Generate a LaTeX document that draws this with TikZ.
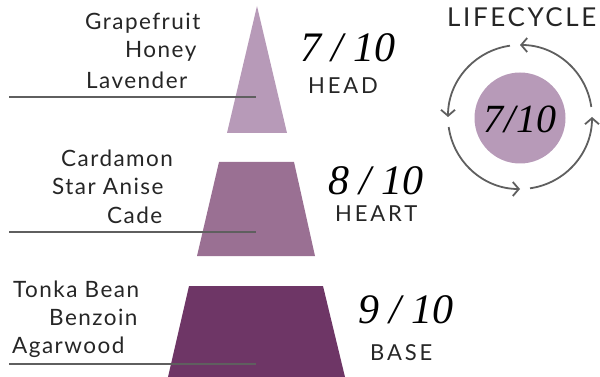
\documentclass[tikz,border=0pt]{standalone}
\usepackage{fontspec}
\usetikzlibrary{arrows.meta}
\setmainfont{Lato}[LetterSpace=6.5]
\newfontfamily\numfont{Liberation Serif}
\definecolor{headc}{HTML}{B79AB8}
\definecolor{heartc}{HTML}{9A7093}
\definecolor{basec}{HTML}{6E3666}
\definecolor{linec}{HTML}{5F5F5F}
\definecolor{txtc}{HTML}{262626}
\begin{document}
\begin{tikzpicture}[x=1pt,y=-1pt,
  lbl/.style={anchor=base west,inner sep=0pt,text=txtc,font=\fontsize{22.5}{23}\selectfont},
  score/.style={anchor=base west,inner sep=0pt,text=black,font=\numfont\itshape\fontsize{42}{42}\selectfont},
  tier/.style={anchor=base west,inner sep=0pt,text=txtc,font=\addfontfeature{LetterSpace=13}\fontsize{22}{22}\selectfont},
  rule/.style={draw=linec,line width=2.6pt},
  cyc/.style={draw=linec,line width=1.8pt,-{Straight Barb[length=6pt,width=14pt]}}]
\useasboundingbox (0,0) rectangle (600,377);
% shapes
\fill[headc] (257,6) -- (287,133) -- (227,133) -- cycle;
\fill[heartc] (219,162) -- (294,162) -- (315,256) -- (197,256) -- cycle;
\fill[basec] (189,286) -- (323,286) -- (345,377) -- (168,377) -- cycle;
% leader lines
\coordinate (h1) at (9,97); \coordinate (h2) at (256,97);
\coordinate (m1) at (9,232); \coordinate (m2) at (256,232);
\coordinate (b1) at (9,364); \coordinate (b2) at (256,364);
\draw[rule] (h1) -- (h2);
\draw[rule] (m1) -- (m2);
\draw[rule] (b1) -- (b2);
% notes
\node[lbl] (t1) at (85,30) {Grapefruit};
\node[lbl] (t2) at (125,58) {Honey};
\node[lbl] (t3) at (86,89) {Lavender};
\node[lbl] (t4) at (61,167) {Cardamon};
\node[lbl] (t5) at (52,195) {Star Anise};
\node[lbl] (t6) at (107,223) {Cade};
\node[lbl] (t7) at (13,297) {Tonka Bean};
\node[lbl] (t8) at (49,325) {Benzoin};
\node[lbl] (t9) at (12,353) {Agarwood};
% scores
\node[score] (s1) at (300,62) {7 / 10};
\node[tier] (n1) at (308,94) {HEAD};
\node[score] (s2) at (328,195) {8 / 10};
\node[tier] (n2) at (335,222) {HEART};
\node[score] (s3) at (358,323) {9 / 10};
\node[tier] (n3) at (370,360) {BASE};
% lifecycle
\node[anchor=base west,inner sep=0pt,text=txtc,font=\addfontfeature{LetterSpace=10}\fontsize{26}{26}\selectfont] (lc) at (447,27) {LIFECYCLE};
\node[circle,fill=headc,minimum size=91pt,inner sep=0pt] (c) at (520,118) {};
\node[text=black,inner sep=0pt,font=\numfont\itshape\fontsize{40}{40}\selectfont] (cv) at ([yshift=-1pt]c.center) {7\kern1pt/\kern1pt10};
\begin{scope}[shift={(520,117)},y=1pt]
  \foreach \k in {0,1,2,3}{
    \draw[cyc] ({\k*90+8}:72) arc[start angle={\k*90+8}, end angle={\k*90+90}, radius=72];
  }
\end{scope}
\end{tikzpicture}
\end{document}
